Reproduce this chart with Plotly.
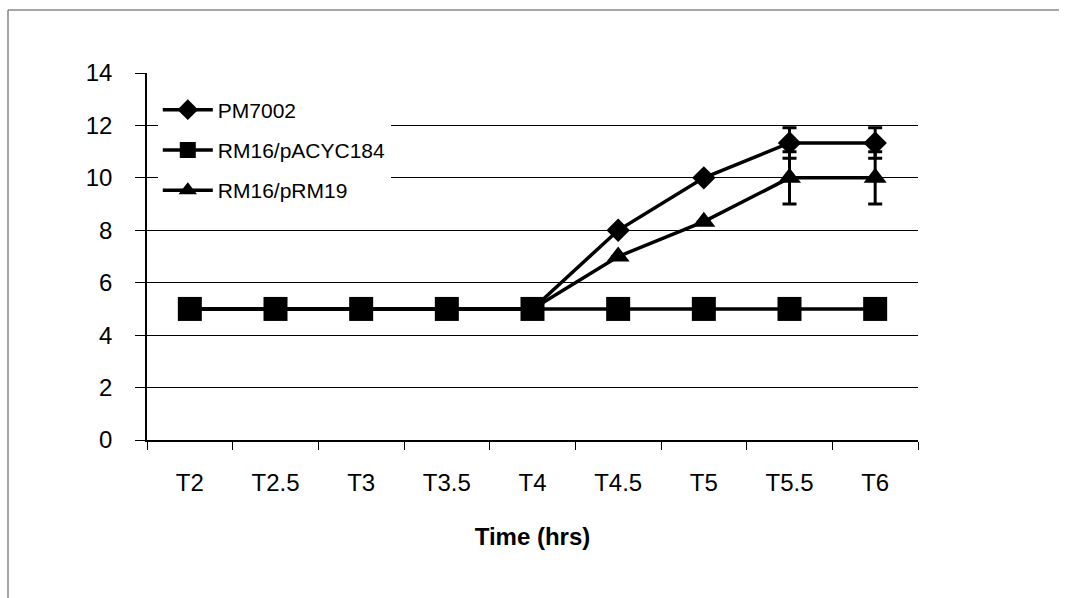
import plotly.graph_objects as go

categories = ["T2", "T2.5", "T3", "T3.5", "T4", "T4.5", "T5", "T5.5", "T6"]
pm7002 = [5, 5, 5, 5, 5, 8, 10, 11.33, 11.33]
pm7002_err = [0, 0, 0, 0, 0, 0, 0, 0.58, 0.58]
pacyc184 = [5, 5, 5, 5, 5, 5, 5, 5, 5]
prm19 = [5, 5, 5, 5, 5, 7, 8.33, 10, 10]
prm19_err = [0, 0, 0, 0, 0, 0, 0, 1, 1]
y_ticks = [0, 2, 4, 6, 8, 10, 12, 14]

W, H = 1066, 598
L, R, T, B = 147, 918, 73, 440
pw, ph = R - L, B - T

fig = go.Figure()
fig.add_trace(go.Scatter(
    x=categories, y=pm7002, name="PM7002", mode="lines+markers", legendgroup="a",
    line=dict(color="black", width=3.5),
    marker=dict(symbol="diamond", size=18, color="black"),
    error_y=dict(type="data", array=pm7002_err, color="black", thickness=3, width=7),
))
fig.add_trace(go.Scatter(
    x=categories, y=pacyc184, name="RM16/pACYC184", mode="lines+markers", legendgroup="b",
    line=dict(color="black", width=3.5),
    marker=dict(symbol="square", size=24, color="black"),
))
fig.add_trace(go.Scatter(
    x=categories, y=prm19, name="RM16/pRM19", mode="lines+markers", legendgroup="c",
    line=dict(color="black", width=3.5),
    marker=dict(symbol="triangle-up", size=20, color="black"),
    error_y=dict(type="data", array=prm19_err, color="black", thickness=3, width=7),
))

x_left = (8 - L) / pw
y_top = (B - 10) / ph
fig.add_shape(type="line", xref="paper", yref="paper",
              x0=x_left, x1=(1059 - L) / pw, y0=y_top, y1=y_top,
              line=dict(color="#888888", width=1.5), layer="below")
fig.add_shape(type="line", xref="paper", yref="paper",
              x0=x_left, x1=x_left, y0=(B - H) / ph, y1=y_top,
              line=dict(color="#888888", width=1.5), layer="below")

fig.update_layout(
    width=W, height=H,
    margin=dict(l=L, r=W - R, t=T, b=H - B),
    paper_bgcolor="white", plot_bgcolor="white",
    font=dict(family="Liberation Sans, Arial, sans-serif", color="black"),
    showlegend=True,
    legend=dict(x=0.014, y=0.955, xanchor="left", yanchor="top",
                bgcolor="white", borderwidth=0,
                font=dict(size=21, color="black"),
                itemwidth=50, tracegroupgap=10, traceorder="grouped"),
    xaxis=dict(
        type="category", range=[-0.5, 8.5], tickson="boundaries",
        ticks="outside", ticklen=8, tickwidth=1, tickcolor="black",
        showline=True, linecolor="black", linewidth=1.5,
        showgrid=False, zeroline=False,
        tickfont=dict(size=24, color="black"),
        ticklabelstandoff=20,
        title=dict(text="Time (hrs)", font=dict(size=24, color="black", weight="bold"), standoff=34),
    ),
    yaxis=dict(
        range=[0, 14], tickvals=y_ticks,
        ticks="outside", ticklen=10, tickwidth=1, tickcolor="black",
        showline=True, linecolor="black", linewidth=1.5,
        showgrid=True, gridcolor="black", gridwidth=1,
        zeroline=False,
        tickfont=dict(size=24, color="black"),
        ticklabelstandoff=18,
    ),
)

fig.write_html("out.html")
